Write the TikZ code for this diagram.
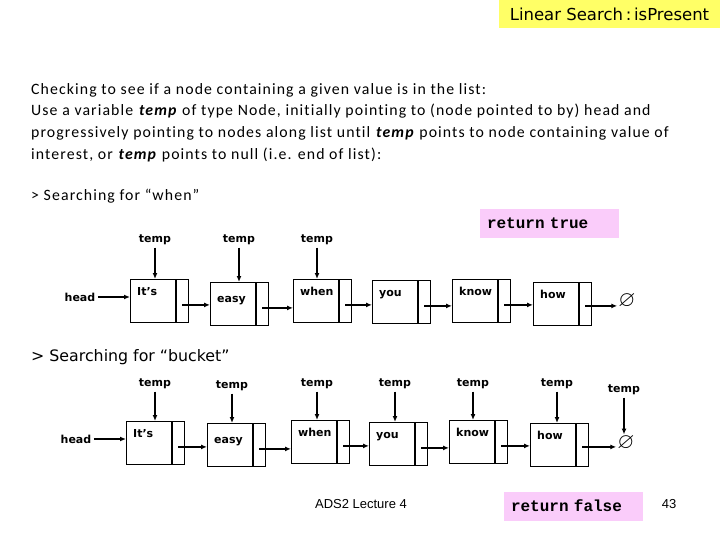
\documentclass[tikz,border=0pt]{standalone}
\usepackage{amssymb}
\usepackage{fontspec}
\setmainfont{Carlito}[LetterSpace=7, Ligatures=NoCommon]
\setmonofont{Liberation Mono}
\newfontfamily\cellfont{DejaVu Sans}
\newfontfamily\footfont{Liberation Sans}
\usetikzlibrary{arrows.meta, positioning}

\definecolor{titleyellow}{RGB}{255,255,102}
\definecolor{retpink}{RGB}{250,204,250}

\begin{document}
\begin{tikzpicture}[
    x=1pt, y=-1pt,
    cell/.style={rectangle, draw=black, line width=0.8pt, minimum width=45pt, minimum height=43pt, inner sep=0pt, anchor=north west},
    ptr/.style={rectangle, draw=black, line width=0.8pt, minimum width=12pt, minimum height=43pt, inner sep=0pt, anchor=north west},
    word/.style={anchor=base west, inner sep=0pt, xshift=7pt, yshift=-16pt, font=\cellfont\bfseries\fontsize{11}{12}\selectfont},
    lbl/.style={inner sep=2.5pt, font=\cellfont\bfseries\fontsize{11}{12}\selectfont},
    nul/.style={inner sep=1pt, font=\fontsize{22}{24}\selectfont},
    retbox/.style={rectangle, fill=retpink, minimum height=29pt, text width=125pt, inner xsep=7pt, align=left, font=\ttfamily\bfseries\fontsize{16}{18}\selectfont},
    arrow/.style={-{Latex[length=6pt, width=5pt]}, line width=1.4pt, draw=black}
]
\useasboundingbox (0,0) rectangle (720,540);

% title and text
\node[rectangle, fill=titleyellow, minimum width=221pt, minimum height=28pt, font=\cellfont\fontsize{16.5}{19}\selectfont] (title) at (609.5,14) {Linear Search\,:\,isPresent};
\node[anchor=north west, inner sep=0pt, align=left, font=\fontsize{15.8}{21.8}\selectfont] (intro) at (31,83)
  {Checking to see if a node containing a given value is in the list:\\
   Use a variable \textbf{\textit{temp}} of type Node, initially pointing to (node pointed to by) head and\\
   progressively pointing to nodes along list until \textbf{\textit{temp}} points to node containing value of\\
   interest, or \textbf{\textit{temp}} points to null (i.e. end of list):};
\node[anchor=west, inner sep=0pt, font=\fontsize{15.8}{18}\selectfont] (srch1) at (31,196) {> Searching for “when”};
\node[anchor=west, inner sep=0pt, font=\cellfont\fontsize{15.8}{18}\selectfont] (srch2) at (31,357) {> Searching for “bucket”};

% first search
\node[cell, label={[word]north west:It’s}] (a1) at (130,279) {};
\node[ptr] (a1p) at (a1.north east) {};
\node[cell, label={[word, yshift=-4pt]north west:easy}] (a2) at (210,282) {};
\node[ptr] (a2p) at (a2.north east) {};
\node[cell, label={[word]north west:when}] (a3) at (293,279) {};
\node[ptr] (a3p) at (a3.north east) {};
\node[cell, label={[word]north west:you}] (a4) at (372,280) {};
\node[ptr] (a4p) at (a4.north east) {};
\node[cell, label={[word]north west:know}] (a5) at (452,279) {};
\node[ptr] (a5p) at (a5.north east) {};
\node[cell, label={[word]north west:how}] (a6) at (533,282) {};
\node[ptr] (a6p) at (a6.north east) {};
\node[nul] (a7) at (627,301) {$\varnothing$};

\node[lbl] (ha) at (80,297) {head};
\node[lbl] (ta1) at (155,240) {temp};
\node[lbl] (ta2) at (239,240) {temp};
\node[lbl] (ta3) at (317,240) {temp};
\node[retbox] (rtrue) at (549.5,223.5) {return true};

\draw[arrow] (ha) -- (ha -| a1.west);
\draw[arrow] (ta1) -- (ta1 |- a1.north);
\draw[arrow] (ta2) -- (ta2 |- a2.north);
\draw[arrow] (ta3) -- (ta3 |- a3.north);
\draw[arrow] ([yshift=-4pt]a1p.center) -- ([yshift=-4pt]a1p.center -| a2.west);
\draw[arrow] ([yshift=-4pt]a2p.center) -- ([yshift=-4pt]a2p.center -| a3.west);
\draw[arrow] ([yshift=-4pt]a3p.center) -- ([yshift=-4pt]a3p.center -| a4.west);
\draw[arrow] ([yshift=-4pt]a4p.center) -- ([yshift=-4pt]a4p.center -| a5.west);
\draw[arrow] ([yshift=-4pt]a5p.center) -- ([yshift=-4pt]a5p.center -| a6.west);
\draw[arrow] ([yshift=-2pt]a6p.center) -- ([yshift=-2pt]a6p.center -| a7.west);

% second search
\node[cell, label={[word]north west:It’s}] (b1) at (126,421) {};
\node[ptr] (b1p) at (b1.north east) {};
\node[cell, label={[word, yshift=-4pt]north west:easy}] (b2) at (207,423) {};
\node[ptr] (b2p) at (b2.north east) {};
\node[cell, label={[word]north west:when}] (b3) at (291,420) {};
\node[ptr] (b3p) at (b3.north east) {};
\node[cell, label={[word]north west:you}] (b4) at (369,422) {};
\node[ptr] (b4p) at (b4.north east) {};
\node[cell, label={[word]north west:know}] (b5) at (449,420) {};
\node[ptr] (b5p) at (b5.north east) {};
\node[cell, label={[word]north west:how}] (b6) at (530,423) {};
\node[ptr] (b6p) at (b6.north east) {};
\node[nul] (b7) at (626,443) {$\varnothing$};

\node[lbl] (hb) at (76,439) {head};
\node[lbl] (tb1) at (155,384) {temp};
\node[lbl] (tb2) at (232,386) {temp};
\node[lbl] (tb3) at (317,384) {temp};
\node[lbl] (tb4) at (395,384) {temp};
\node[lbl] (tb5) at (473,384) {temp};
\node[lbl] (tb6) at (557,384) {temp};
\node[lbl] (tb7) at (624,390) {temp};
\node[retbox] (rfalse) at (573.5,506) {return false};

\draw[arrow] (hb) -- (hb -| b1.west);
\draw[arrow] (tb1) -- (tb1 |- b1.north);
\draw[arrow] (tb2) -- (tb2 |- b2.north);
\draw[arrow] (tb3) -- (tb3 |- b3.north);
\draw[arrow] (tb4) -- (tb4 |- b4.north);
\draw[arrow] (tb5) -- (tb5 |- b5.north);
\draw[arrow] (tb6) -- (tb6 |- b6.north);
\draw[arrow] (tb7) -- (tb7 |- b7.north);
\draw[arrow] ([yshift=-4pt]b1p.center) -- ([yshift=-4pt]b1p.center -| b2.west);
\draw[arrow] ([yshift=-4pt]b2p.center) -- ([yshift=-4pt]b2p.center -| b3.west);
\draw[arrow] ([yshift=-4pt]b3p.center) -- ([yshift=-4pt]b3p.center -| b4.west);
\draw[arrow] ([yshift=-4pt]b4p.center) -- ([yshift=-4pt]b4p.center -| b5.west);
\draw[arrow] ([yshift=-4pt]b5p.center) -- ([yshift=-4pt]b5p.center -| b6.west);
\draw[arrow] ([yshift=-2pt]b6p.center) -- ([yshift=-2pt]b6p.center -| b7.west);

% footer
\node[font=\footfont\fontsize{13}{15}\selectfont] (foot) at (361,504) {ADS2 Lecture 4};
\node[font=\footfont\fontsize{13}{15}\selectfont] (page) at (669,504) {43};
\end{tikzpicture}
\end{document}
